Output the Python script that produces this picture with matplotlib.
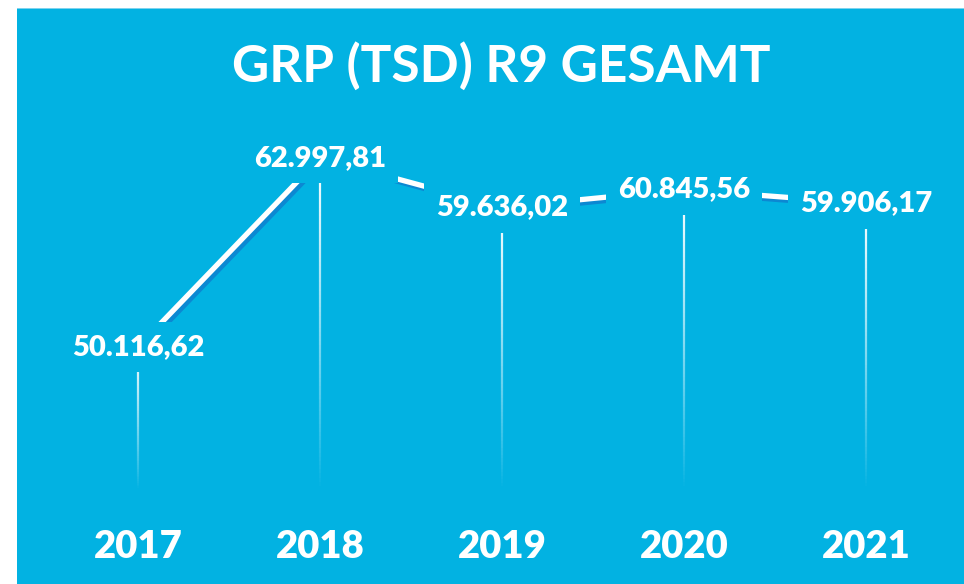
import numpy as np
import matplotlib.pyplot as plt
import matplotlib.patheffects as pe
from matplotlib.collections import LineCollection
from matplotlib.patches import Rectangle

plt.rcParams['font.family'] = ['Lato', 'DejaVu Sans']

# Data
years = ['2017', '2018', '2019', '2020', '2021']
values = [50116.62, 62997.81, 59636.02, 60845.56, 59906.17]
value_labels = ['50.116,62', '62.997,81', '59.636,02', '60.845,56', '59.906,17']
title = 'GRP (TSD) R9 GESAMT'

bg = '#02B2E2'
shadow = '#0C88D2'

fig = plt.figure(figsize=(9.64, 5.84), dpi=100, facecolor='white')
# blue panel behind the axes
fig.patches.append(Rectangle((17 / 964, 0), 1 - 17 / 964, 576 / 584,
                             transform=fig.transFigure, facecolor=bg,
                             edgecolor='none', zorder=-2))
fig.patches.append(Rectangle((17 / 964, 575 / 584), 1 - 17 / 964, 1.2 / 584,
                             transform=fig.transFigure, facecolor='#7DD3EE',
                             edgecolor='none', zorder=-1))

ax = fig.add_axes([17 / 964, 94 / 584, 947 / 964, 390 / 584])
ax.set_facecolor('none')
ax.set_zorder(1)
x = np.arange(len(years))
ax.set_xlim(-0.665, 4.538)
ax.set_ylim(40370, 66950)

# drop lines fading towards the bottom
y0 = ax.get_ylim()[0]
n = 80
for xi, v in zip(x, values):
    ys = np.linspace(v, y0, n + 1)
    segs = [[(xi, ys[k]), (xi, ys[k + 1])] for k in range(n)]
    alphas = np.linspace(1, 0, n) ** 0.9
    cols = [(1, 1, 1, a) for a in alphas]
    ax.add_collection(LineCollection(segs, colors=cols, linewidths=1.6, zorder=2))

# main line with shadow
ax.plot(x, values, color='white', lw=3.8, solid_capstyle='butt', zorder=3,
        path_effects=[pe.Stroke(offset=(2.2, -2.2), linewidth=3.8, foreground=shadow),
                      pe.Normal()])

for xi, v, lab in zip(x, values, value_labels):
    ax.text(xi, v, lab, ha='center', va='center', color='white', fontsize=21,
            fontweight='heavy', zorder=5,
            bbox=dict(boxstyle='square,pad=0.42', fc=bg, ec='none'))

ax.set_xticks(x)
ax.set_xticklabels(years, fontsize=27.5, fontweight='heavy', color='white')
ax.tick_params(axis='x', length=0, pad=29)
ax.set_yticks([])
for s in ax.spines.values():
    s.set_visible(False)

fig.text(501 / 964, (584 - 82) / 584, title, ha='center', va='baseline',
         color='white', fontsize=37, fontweight='bold')

fig.savefig('out.png', dpi=100, facecolor='white')
